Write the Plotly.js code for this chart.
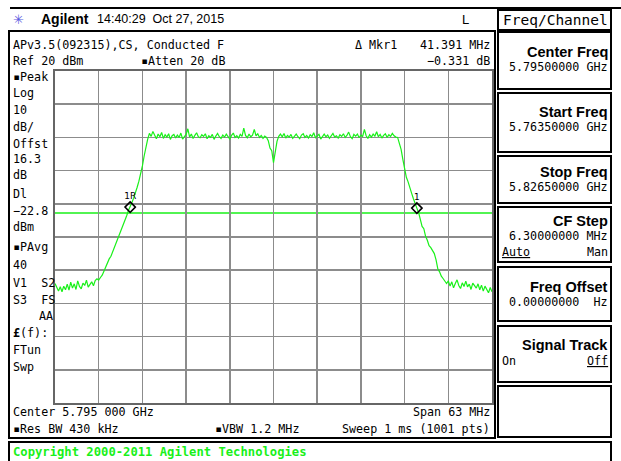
<!DOCTYPE html>
<html>
<head>
<meta charset="utf-8">
<script src="https://cdn.plot.ly/plotly-3.0.1.min.js"></script>
<style>
html,body{margin:0;padding:0;background:#fff;}
#chart{width:621px;height:461px;}
</style>
</head>
<body>
<div id="chart"></div>
<script>
// ---- Sweep settings (analyzer) ----
const startFreqMHz = 5763.5;
const stopFreqMHz = 5826.5;
const divisionMHz = 6.3;
const refLevelDbm = 20;
const dbPerDiv = 10;
const displayLineDbm = -22.8;

const traceDbm = [
  -44.0, -45.2, -46.3, -45.0, -46.5, -44.8, -45.9, -44.2, -46.0, -43.6,
  -45.4, -44.1, -45.8, -43.2, -44.9, -45.6, -43.9, -44.6, -43.0, -45.1,
  -44.3, -43.5, -44.7, -43.1, -42.6,
  -43.0, -42.2, -41.5, -40.3, -39.0, -38.2, -36.6, -35.8, -34.5, -32.9,
  -31.8, -30.2, -28.9, -27.4, -26.1, -24.8, -23.6, -22.0, -21.0, -19.6,
  -18.3, -16.9, -15.0, -13.2, -11.0, -8.6, -5.6, -2.9, -0.6,
  1.2, 0.3, 1.8, 0.6, -0.4, 1.0, 0.2, 1.5, -0.3, 0.8,
  0.1, 1.1, -0.6, 0.5, 0.9, -0.2, 0.7, 0.0, 1.3, -0.5,
  0.4, 0.9, 2.6, 0.1, 1.0, -0.3, 0.6, 1.4, 0.2, -0.1,
  0.8, 0.3, 1.1, -0.4, 0.5, 0.0, 0.9, -0.6, 0.4, 1.2,
  0.2, -0.3, 0.7, 0.1, 1.0, 0.4, -0.5, 0.6, 1.3, 0.0,
  0.5, -0.2, 0.9, 0.3, 2.8, 0.6, -0.1, 1.0, 0.2, 0.7,
  2.4, 0.5, 1.1, 0.0, 0.6, -0.3, 0.4, 0.0, -1.0, -3.2,
  -4.0, -7.6, -3.8, -1.2, 0.3, 1.0, 0.2, 1.2, -0.2, 0.6,
  0.1, 0.9, -0.3, 0.5, 1.0, 0.2, -0.4, 0.7, 1.1, 0.0,
  0.6, -0.2, 0.8, 0.3, 1.4, -0.1, 0.5, 0.9, -0.5, 0.4,
  1.0, 0.2, 0.7, -0.3, 0.6, 1.2, 0.1, 0.5, -0.2, 0.8,
  0.3, 1.1, 0.0, 0.6, 1.6, 0.2, -0.4, 0.9, 0.4, 1.0,
  -0.1, 0.7, 0.3, 2.4, 0.5, -0.3, 0.8, 0.1, 1.0, 0.4,
  1.7, 0.2, 0.9, -0.2, 0.6, 1.1, 0.0, 0.8, 0.3, 1.2,
  0.5, 0.1,
  0.0, -1.5, -3.6, -6.6, -9.8, -12.0, -13.4, -14.8, -16.8, -18.4,
  -19.6, -21.3, -22.6, -24.4, -26.8, -27.5, -29.8, -31.0, -32.6, -33.2,
  -34.1, -35.0, -36.9, -39.6, -40.5, -41.8, -42.5, -43.4, -44.0, -43.2,
  -44.8, -43.5, -45.3, -44.0, -42.9, -44.6, -45.5, -43.8, -44.9, -43.3,
  -45.0, -44.2, -45.8, -43.9, -44.7, -45.4, -44.1, -45.9, -44.5, -46.3,
  -44.8, -45.6, -46.8, -45.2, -46.5
];
const stepMHz = (stopFreqMHz - startFreqMHz) / (traceDbm.length - 1);
const traceFreqMHz = traceDbm.map((_, i) => startFreqMHz + i * stepMHz);

// ---- Markers (trace point indices) ----
const markerIndex = [43, 207];
const markerLabels = ["1R", "1"];

// ---- Screen texts ----
const headerTexts = ["Agilent", "14:40:29  Oct 27, 2015", "L"];
const statusLine1 = ["APv3.5(092315),CS, Conducted F", "\u0394 Mkr1", "41.391 MHz"];
const statusLine2 = ["Ref 20 dBm", "\u25AAAtten 20 dB", "\u22120.331 dB"];
const leftLabels = ["\u25AAPeak", "Log", "10", "dB/", "Offst", "16.3", "dB", "Dl", "\u221222.8", "dBm",
  "\u25AAPAvg", "40", "V1  S2", "S3  FS", "AA", "<b>\u00A3</b>(f):", "FTun", "Swp"];
const bottomTexts = ["Center 5.795 000 GHz", "Span 63 MHz", "\u25AARes BW 430 kHz", "\u25AAVBW 1.2 MHz", "Sweep 1 ms (1001 pts)"];
const menuTitle = "Freq/Channel";
const softkeyLabels = ["Center Freq", "Start Freq", "Stop Freq", "CF Step", "Freq Offset", "Signal Track", ""];
const softkeyValues = ["5.79500000 GHz", "5.76350000 GHz", "5.82650000 GHz", "6.30000000 MHz", "0.00000000  Hz", "", ""];
const copyrightText = "Copyright 2000-2011 Agilent Technologies";

// ---- Layout geometry (pixels) ----
const W = 621, H = 461;
const PL = 55, PR = 492, PT = 71, PB = 403;
const px = x => (x - PL) / (PR - PL);
const py = y => (PB - y) / (PB - PT);
const MONO = "DejaVu Sans Mono, monospace";
const SANS = "Liberation Sans, Arial, sans-serif";
const GREEN = "#19f019";

const annotations = [];
function txt(text, x, y, opt) {
  opt = opt || {};
  annotations.push({
    text: text, xref: "paper", yref: "paper", x: px(x), y: py(y),
    xanchor: opt.anchor || "left", yanchor: "middle", showarrow: false,
    borderpad: 0,
    font: { family: opt.family || MONO, size: opt.size || 11.7, color: opt.color || "#000", weight: opt.weight || "normal" }
  });
}
const shapes = [];
function rect(x0, y0, x1, y1, w) {
  shapes.push({ type: "rect", xref: "paper", yref: "paper", x0: px(x0), x1: px(x1), y0: py(y0), y1: py(y1),
    line: { color: "#000", width: w || 2 }, fillcolor: "rgba(0,0,0,0)", layer: "above" });
}
function hline(x0, x1, y, w, c) {
  shapes.push({ type: "line", xref: "paper", yref: "paper", x0: px(x0), x1: px(x1), y0: py(y), y1: py(y),
    line: { color: c || "#000", width: w || 2 }, layer: "above" });
}

// header
hline(10, 621, 8, 2);
txt("\u2733", 12, 19, { family: "DejaVu Sans", size: 13, color: "#5a5ae0" });
txt(headerTexts[0], 40, 19, { family: SANS, size: 14, weight: "bold" });
txt(headerTexts[1], 96, 19, { family: SANS, size: 12.5 });
txt(headerTexts[2], 461, 19, { family: SANS, size: 13 });

// main panel
rect(9, 31, 495, 438, 2);
txt(statusLine1[0], 12, 45);
txt(statusLine1[1], 354, 45);
txt(statusLine1[2], 491, 45, { anchor: "right" });
txt(statusLine2[0], 12, 61);
txt(statusLine2[1], 140, 61);
txt(statusLine2[2], 491, 61, { anchor: "right" });

const leftY = [77, 93, 110, 127, 144, 159, 175, 194, 211, 227, 247, 265, 283, 300, 316, 333, 350, 367];
leftLabels.forEach((t, i) => {
  if (t === "AA") txt(t, 54, leftY[i], { anchor: "right" });
  else txt(t, 12, leftY[i]);
});

txt(bottomTexts[0], 12, 412);
txt(bottomTexts[1], 491, 412, { anchor: "right" });
txt(bottomTexts[2], 12, 429);
txt(bottomTexts[3], 214, 429);
txt(bottomTexts[4], 491, 429, { anchor: "right" });

// softkey menu
rect(498, 10, 611, 30, 2);
txt(menuTitle, 609, 20, { anchor: "right", size: 14.5 });
const keyBoxes = [[32, 89], [93, 152], [156, 203], [207, 262], [267, 321], [326, 382], [386, 437]];
const keyLabelY = [52, 112, 172, 221, 287, 345];
keyBoxes.forEach((b, i) => {
  rect(498, b[0], 611, b[1], 2);
  if (softkeyLabels[i]) txt(softkeyLabels[i], 609, keyLabelY[i], { anchor: "right", family: SANS, size: 14.5, weight: "bold" });
  if (softkeyValues[i]) txt(softkeyValues[i], 609, keyLabelY[i] + 15, { anchor: "right" });
});
txt("<u>Auto</u>", 501, 252);
txt("Man", 609, 252, { anchor: "right" });
txt("On", 501, 361);
txt("<u>Off</u>", 609, 361, { anchor: "right" });

// copyright bar
rect(9, 442, 611, 463, 2);
txt(copyrightText, 12, 452, { color: GREEN, size: 12.2, weight: "bold" });

// display line
shapes.push({ type: "line", xref: "paper", yref: "y", x0: 0, x1: 1, y0: displayLineDbm, y1: displayLineDbm,
  line: { color: GREEN, width: 1.5 }, layer: "below" });

const data = [
  {
    type: "scatter", mode: "lines", x: traceFreqMHz, y: traceDbm,
    line: { color: GREEN, width: 1.2 }, hoverinfo: "skip"
  },
  {
    type: "scatter", mode: "markers+text",
    x: markerIndex.map(i => traceFreqMHz[i]), y: markerIndex.map(i => traceDbm[i]),
    text: markerLabels, textposition: "top center",
    textfont: { family: "DejaVu Sans", size: 9, color: "#000" },
    marker: { symbol: "diamond-open", size: 8, color: "#000", line: { width: 1.5, color: "#000" } },
    cliponaxis: false, hoverinfo: "skip"
  }
];

const layout = {
  width: W, height: H,
  margin: { l: PL, r: W - PR, t: PT, b: H - PB, pad: 0 },
  paper_bgcolor: "#fff", plot_bgcolor: "#fff",
  showlegend: false,
  xaxis: {
    range: [startFreqMHz, stopFreqMHz], tick0: startFreqMHz, dtick: divisionMHz,
    showticklabels: false, ticks: "", showgrid: true, gridcolor: "#8c8c8c", gridwidth: 1.5,
    zeroline: false, showline: true, mirror: true, linecolor: "#666", linewidth: 2, fixedrange: true
  },
  yaxis: {
    range: [refLevelDbm - 10 * dbPerDiv, refLevelDbm], tick0: refLevelDbm, dtick: dbPerDiv,
    showticklabels: false, ticks: "", showgrid: true, gridcolor: "#8c8c8c", gridwidth: 1.5,
    zeroline: false, showline: true, mirror: true, linecolor: "#666", linewidth: 2, fixedrange: true
  },
  annotations: annotations,
  shapes: shapes
};

Plotly.newPlot("chart", data, layout, { staticPlot: true, displayModeBar: false });
</script>
</body>
</html>
